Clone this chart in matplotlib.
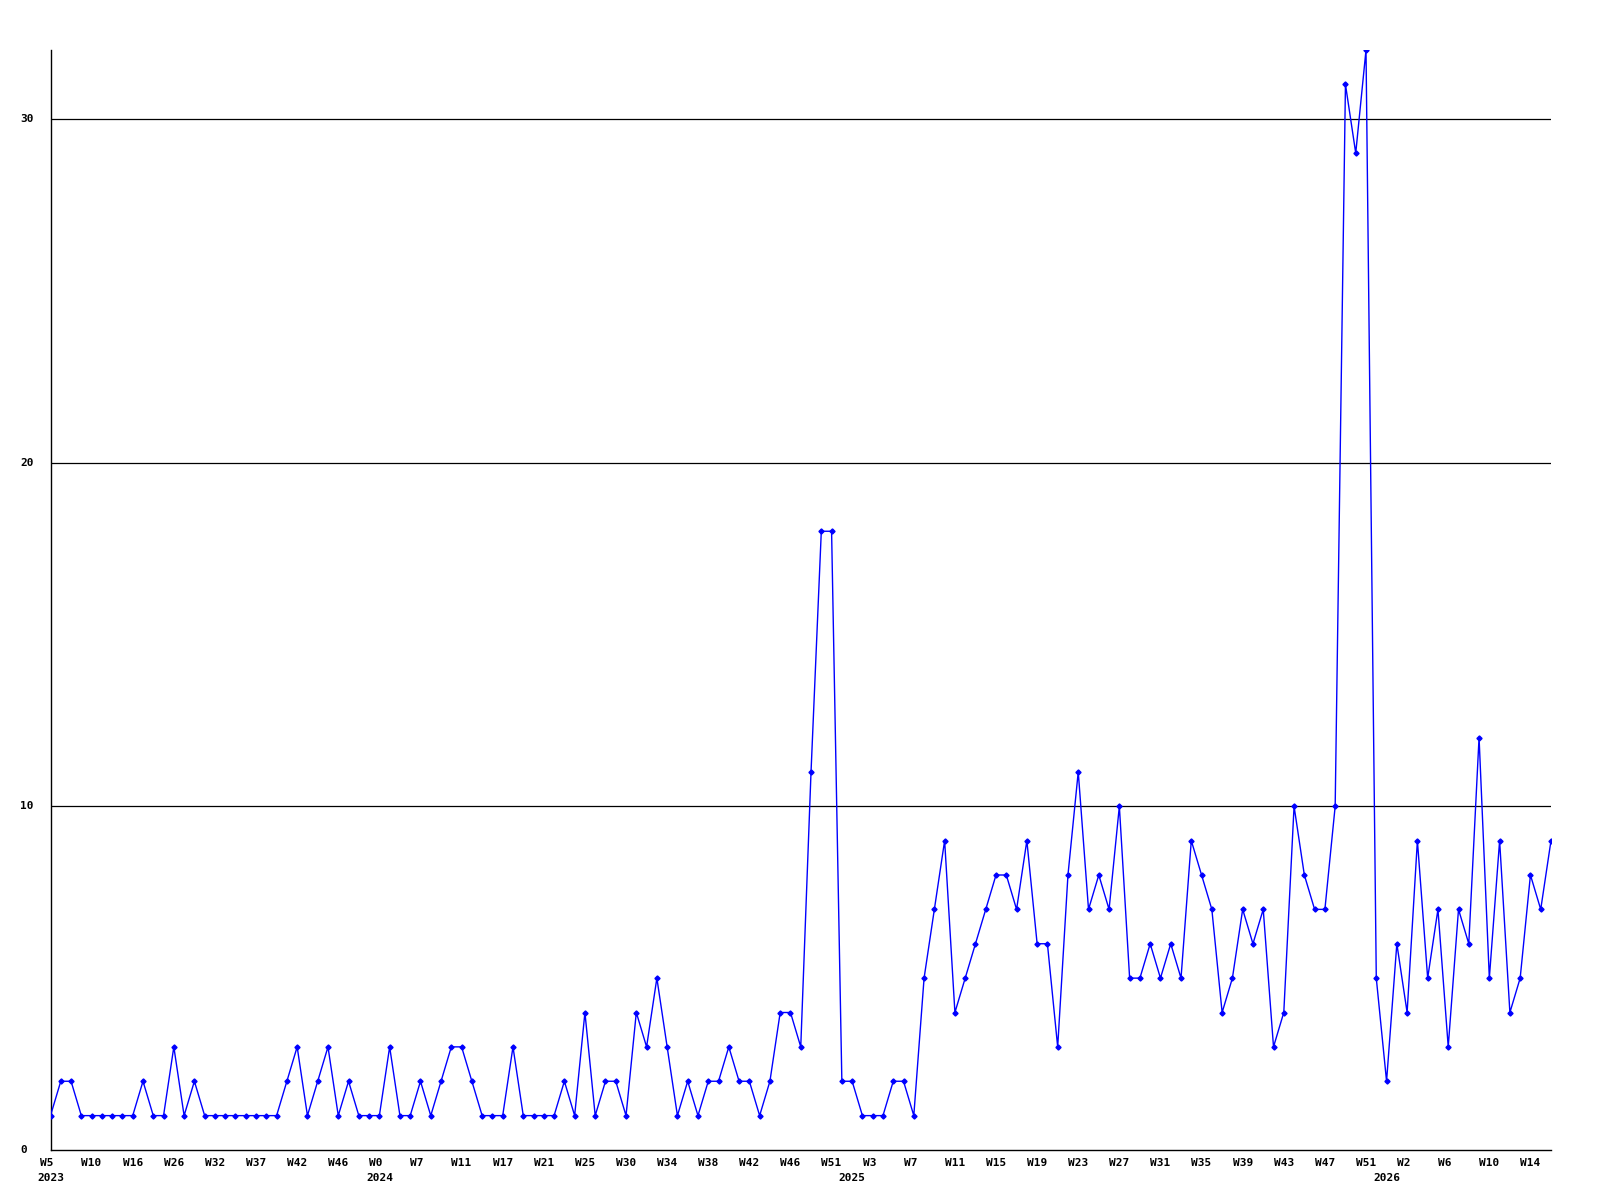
import matplotlib
matplotlib.use("Agg")
import matplotlib.pyplot as plt
from matplotlib.transforms import blended_transform_factory

values = [
    1, 2, 2, 1, 1, 1, 1, 1, 1, 2, 1, 1, 3, 1, 2, 1, 1, 1, 1, 1, 1, 1, 1, 2, 3,
    1, 2, 3, 1, 2, 1, 1, 1, 3, 1, 1, 2, 1, 2, 3, 3, 2, 1, 1, 1, 3, 1, 1, 1, 1,
    2, 1, 4, 1, 2, 2, 1, 4, 3, 5, 3, 1, 2, 1, 2, 2, 3, 2, 2, 1, 2, 4, 4, 3,
    11, 18, 18, 2, 2, 1, 1, 1, 2, 2, 1, 5, 7, 9, 4,
    5, 6, 7, 8, 8, 7, 9, 6, 6, 3, 8, 11, 7, 8, 7, 10, 5, 5, 6, 5, 6, 5, 9, 8,
    7, 4, 5, 7, 6, 7, 3, 4, 10, 8, 7, 7, 10,
    31, 29, 32,
    5, 2, 6, 4, 9, 5, 7, 3, 7, 6, 12, 5, 9, 4, 5, 8, 7, 9,
]

tick_labels = [
    "W5", "W10", "W16", "W26", "W32", "W37", "W42", "W46",
    "W0", "W7", "W11", "W17", "W21", "W25", "W30", "W34", "W38", "W42", "W46", "W51",
    "W3", "W7", "W11", "W15", "W19", "W23", "W27", "W31", "W35", "W39", "W43", "W47", "W51",
    "W2", "W6", "W10", "W14",
]
tick_step = 4
year_labels = ["2023", "2024", "2025", "2026"]
year_positions = [0, 32, 78, 130]
y_ticks = [0, 10, 20, 30]

font = "DejaVu Sans Mono"

fig = plt.figure(figsize=(16, 12), dpi=100)
ax = fig.add_axes([50.5 / 1600, 1 - 1150 / 1200, (1551 - 50.5) / 1600, (1150 - 50) / 1200])

x = list(range(len(values)))
for yv in y_ticks[1:]:
    ax.axhline(yv, color="black", lw=0.9, zorder=1)
ax.plot(x, values, color="#0000ff", lw=1.0, marker="D", markersize=2.6,
        markerfacecolor="#0000ff", markeredgecolor="#0000ff", zorder=3)

ax.set_xlim(0, len(values) - 1)
ax.set_ylim(0, max(values))

ax.spines["top"].set_visible(False)
ax.spines["right"].set_visible(False)
ax.spines["left"].set_linewidth(1.0)
ax.spines["bottom"].set_linewidth(1.0)

ticks = [i * tick_step for i in range(len(tick_labels))]
ax.set_xticks(ticks)
ax.set_xticklabels([f"{t:<3s}" for t in tick_labels], fontfamily=font,
                   fontweight="bold", fontsize=8)
ax.tick_params(axis="x", length=0, pad=6)

for yl, yp in zip(year_labels, year_positions):
    ax.annotate(yl, xy=(yp, 0), xycoords=("data", "axes fraction"),
                xytext=(0, -16.8), textcoords="offset points",
                ha="center", va="top", fontfamily=font, fontweight="bold",
                fontsize=8, annotation_clip=False)

ax.set_yticks([])
trans = blended_transform_factory(fig.transFigure, ax.transData)
for yv in y_ticks:
    ax.text(20 / 1600, yv, str(yv), transform=trans, ha="left", va="center",
            fontfamily=font, fontweight="bold", fontsize=8, clip_on=False)

fig.savefig("out.png", dpi=100)
